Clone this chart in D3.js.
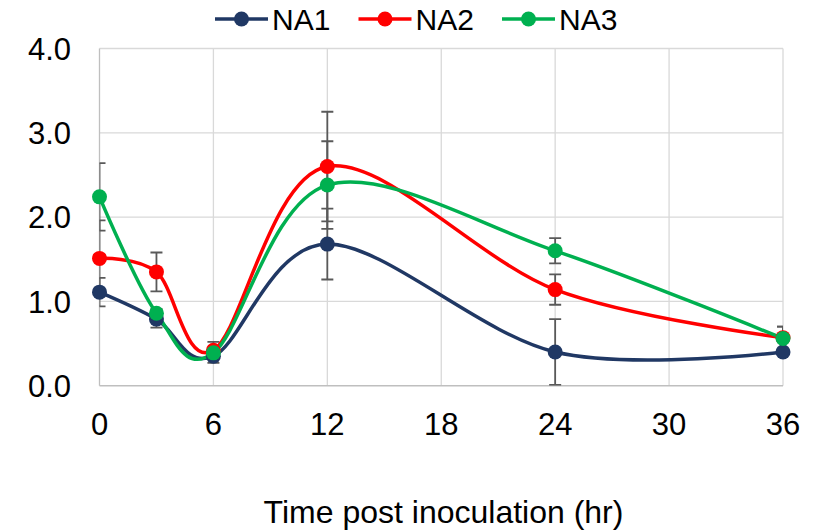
<!DOCTYPE html>
<html>
<head>
<meta charset="utf-8">
<script src="https://cdn.jsdelivr.net/npm/d3@7"></script>
<style>
  html, body { margin: 0; padding: 0; background: #fff; }
  svg { display: block; font-family: "Liberation Sans", Arial, sans-serif; }
</style>
</head>
<body>
<svg id="chart" width="825" height="532"></svg>
<script>
// ---- data ----
const hours = [0, 3, 6, 12, 24, 36];
const seriesNames = ["NA1", "NA2", "NA3"];
const na1 = [1.11, 0.79, 0.35, 1.68, 0.40, 0.40];
const na2 = [1.51, 1.35, 0.42, 2.60, 1.14, 0.57];
const na3 = [2.24, 0.86, 0.39, 2.38, 1.60, 0.56];
const na1Err = [0.17, 0.10, 0.08, 0.42, 0.39, 0.03];
const na2Err = [0.45, 0.23, 0.10, 0.65, 0.18, 0.13];
const na3Err = [0.40, 0.05, 0.06, 0.52, 0.15, 0.14];
const xTicks = [0, 6, 12, 18, 24, 30, 36];
const yTicks = [0, 1, 2, 3, 4];
const xTitle = "Time post inoculation (hr)";

const colors = ["#203864", "#FF0000", "#00B050"];
const seriesVals = [na1, na2, na3];
const seriesErrs = [na1Err, na2Err, na3Err];

const svg = d3.select("#chart");
const pL = 99.5, pR = 783, pT = 48.5, pB = 385.7;

const x = d3.scaleLinear().domain([0, 36]).range([pL, pR]);
const y = d3.scaleLinear().domain([0, 4]).range([pB, pT]);

const series = seriesNames.map((name, i) => ({
  name, color: colors[i],
  pts: hours.map((h, j) => ({ h, v: seriesVals[i][j], e: seriesErrs[i][j] }))
}));

// clip
svg.append("defs").append("clipPath").attr("id", "plotclip")
  .append("rect").attr("x", pL).attr("y", pT - 2)
  .attr("width", pR - pL).attr("height", pB - pT + 2);

// gridlines
const grid = svg.append("g");
grid.selectAll("line.h").data(yTicks.filter(t => t > 0)).join("line")
  .attr("x1", pL).attr("x2", pR)
  .attr("y1", d => y(d)).attr("y2", d => y(d))
  .attr("stroke", "#D9D9D9").attr("stroke-width", 1.3);
grid.selectAll("line.v").data(xTicks).join("line")
  .attr("x1", d => x(d)).attr("x2", d => x(d))
  .attr("y1", pT).attr("y2", pB)
  .attr("stroke", d => d === 0 ? "#BFBFBF" : "#D9D9D9").attr("stroke-width", 1.3);
svg.append("line").attr("x1", pL).attr("x2", pR)
  .attr("y1", y(0)).attr("y2", y(0))
  .attr("stroke", "#BFBFBF").attr("stroke-width", 1.5);

// y tick labels
svg.append("g").selectAll("text").data(yTicks).join("text")
  .attr("x", 71).attr("y", d => y(d))
  .attr("dy", "0.36em")
  .attr("text-anchor", "end")
  .attr("font-size", 31).attr("fill", "#000")
  .text(d => d3.format(".1f")(d));

// x tick labels
svg.append("g").selectAll("text").data(xTicks).join("text")
  .attr("x", d => x(d)).attr("y", 435)
  .attr("text-anchor", "middle")
  .attr("font-size", 31).attr("fill", "#000")
  .text(d => d);

// x title
svg.append("text").attr("x", 443.5).attr("y", 523)
  .attr("text-anchor", "middle").attr("font-size", 32).attr("fill", "#000")
  .text(xTitle);

// error bars
const eg = svg.append("g").attr("clip-path", "url(#plotclip)");
series.forEach(s => {
  const g = eg.append("g");
  g.selectAll("line.bar").data(s.pts).join("line")
    .attr("x1", d => x(d.h)).attr("x2", d => x(d.h))
    .attr("y1", d => y(d.v + d.e)).attr("y2", d => y(Math.max(0, d.v - d.e)))
    .attr("stroke", "#595959").attr("stroke-width", 1.8);
  ["up", "dn"].forEach(k => {
    g.selectAll("line.cap" + k).data(s.pts).join("line")
      .attr("x1", d => x(d.h) - 6).attr("x2", d => x(d.h) + 6)
      .attr("y1", d => y(k === "up" ? d.v + d.e : d.v - d.e))
      .attr("y2", d => y(k === "up" ? d.v + d.e : d.v - d.e))
      .attr("stroke", "#595959").attr("stroke-width", 1.8);
  });
});

// lines
const line = d3.line().x(d => x(d.h)).y(d => y(d.v)).curve(d3.curveCardinal.tension(0));
series.forEach(s => {
  svg.append("path").datum(s.pts)
    .attr("d", line).attr("fill", "none")
    .attr("stroke", s.color).attr("stroke-width", 3.5)
    .attr("stroke-linejoin", "round");
});
// markers
series.forEach(s => {
  svg.append("g").selectAll("circle").data(s.pts).join("circle")
    .attr("cx", d => x(d.h)).attr("cy", d => y(d.v))
    .attr("r", 7.5).attr("fill", s.color);
});

// legend
const lg = svg.append("g");
series.forEach((s, i) => {
  const x0 = 215 + i * 143.5, ly = 19;
  lg.append("line").attr("x1", x0).attr("x2", x0 + 53)
    .attr("y1", ly).attr("y2", ly)
    .attr("stroke", s.color).attr("stroke-width", 3.5);
  lg.append("circle").attr("cx", x0 + 26.5).attr("cy", ly).attr("r", 7.5).attr("fill", s.color);
  lg.append("text").attr("x", x0 + 57).attr("y", ly).attr("dy", "0.36em")
    .attr("font-size", 30).attr("fill", "#000").text(s.name);
});
</script>
</body>
</html>
